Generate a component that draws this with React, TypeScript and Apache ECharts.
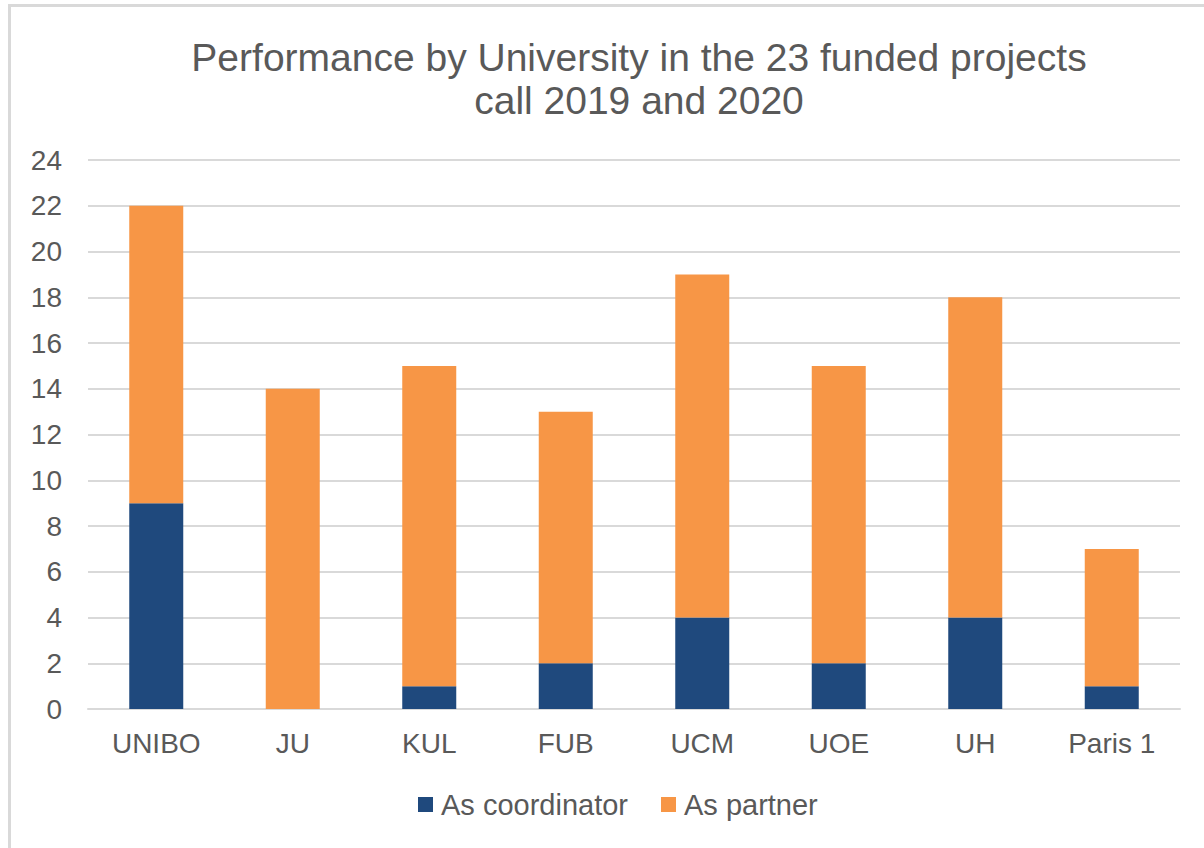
import React, { useEffect, useRef } from "react";
import * as echarts from "echarts";

const categories = ["UNIBO", "JU", "KUL", "FUB", "UCM", "UOE", "UH", "Paris 1"];
const asCoordinator = [9, 0, 1, 2, 4, 2, 4, 1];
const asPartner = [13, 14, 14, 11, 15, 13, 14, 6];
const titleLines = ["Performance by University in the 23 funded projects", "call 2019 and 2020"];

export default function App() {
  const ref = useRef<HTMLDivElement>(null);
  useEffect(() => {
    if (!ref.current) return;
    const chart = echarts.init(ref.current, undefined, { renderer: "svg" });
    const font = "Liberation Sans, Arial, sans-serif";
    chart.setOption({
      animation: false,
      backgroundColor: "#ffffff",
      textStyle: { fontFamily: font },
      title: {
        text: titleLines.join("\n"),
        left: 634,
        textAlign: "center",
        top: 31,
        textStyle: {
          fontFamily: font,
          fontSize: 39,
          fontWeight: "normal",
          color: "#595959",
          lineHeight: 43,
        },
      },
      graphic: [
        {
          type: "rect",
          shape: { x: 9.5, y: 5.5, width: 1400, height: 1000 },
          style: { fill: "none", stroke: "#d9d9d9", lineWidth: 3 },
          silent: true,
        },
      ],
      grid: { left: 88, right: 24, top: 160, bottom: 139, containLabel: false },
      xAxis: {
        type: "category",
        data: categories,
        axisLine: { show: true, lineStyle: { color: "#d9d9d9", width: 2 } },
        axisTick: { show: false },
        axisLabel: {
          color: "#595959",
          fontSize: 28,
          fontFamily: font,
          margin: 20,
          lineHeight: 28,
        },
      },
      yAxis: {
        type: "value",
        min: 0,
        max: 24,
        interval: 2,
        axisLine: { show: false },
        axisTick: { show: false },
        splitLine: { lineStyle: { color: "#d9d9d9", width: 2 } },
        axisLabel: { color: "#595959", fontSize: 28, fontFamily: font, margin: 26 },
      },
      legend: {
        data: ["As coordinator", "As partner"],
        left: 413,
        top: 785,
        itemWidth: 15,
        itemHeight: 15,
        itemGap: 33,
        icon: "rect",
        textStyle: { color: "#595959", fontSize: 29, fontFamily: font, padding: [0, 0, 0, 3] },
      },
      series: [
        {
          name: "As coordinator",
          type: "bar",
          stack: "total",
          data: asCoordinator,
          barWidth: 54,
          itemStyle: { color: "#1F497D" },
        },
        {
          name: "As partner",
          type: "bar",
          stack: "total",
          data: asPartner,
          barWidth: 54,
          itemStyle: { color: "#F79646" },
        },
      ],
    });
    return () => chart.dispose();
  }, []);
  return (
    <div
      ref={ref}
      style={{ position: "fixed", left: 0, top: 0, width: 1204, height: 848 }}
    />
  );
}
